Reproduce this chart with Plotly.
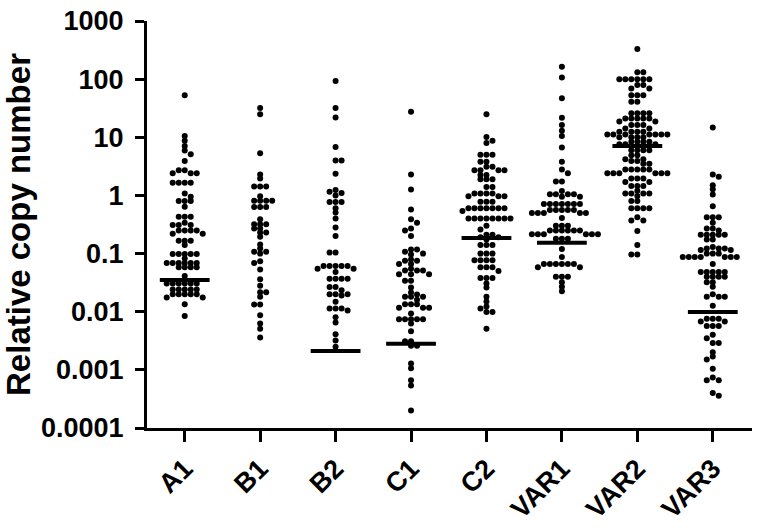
import math
import plotly.graph_objects as go

categories = ["A1", "B1", "B2", "C1", "C2", "VAR1", "VAR2", "VAR3"]

A1 = [53, 10.5, 8.7, 7.1, 5.9, 5.1, 3.9, 2.7, 2.7, 2.4, 2.4, 2.4, 1.65, 1.65, 1.65, 1.65,
      1.08, 0.95, 0.80, 0.80, 0.80, 0.64, 0.43, 0.43, 0.43, 0.34, 0.31, 0.31, 0.31,
      0.25, 0.25, 0.25, 0.25, 0.22, 0.22, 0.166, 0.166, 0.166, 0.14,
      0.098, 0.098, 0.098, 0.098, 0.098, 0.082, 0.069, 0.069, 0.069, 0.069, 0.069, 0.069,
      0.058, 0.058, 0.058, 0.058, 0.041, 0.0305, 0.0305, 0.0305, 0.0305, 0.0305, 0.0305,
      0.024, 0.024, 0.024, 0.024, 0.024, 0.020, 0.020, 0.020, 0.020, 0.020,
      0.0175, 0.0175, 0.0135, 0.0084]

B1 = [32, 25, 5.3, 2.3, 1.96, 1.43, 1.43, 1.43, 0.97, 0.81, 0.81, 0.81, 0.81,
      0.63, 0.63, 0.63, 0.39, 0.32, 0.32, 0.32, 0.27, 0.27, 0.23, 0.23, 0.194, 0.143,
      0.122, 0.107, 0.107, 0.10, 0.074, 0.069, 0.053, 0.036, 0.028, 0.0217, 0.0217,
      0.018, 0.0133, 0.0133, 0.0087, 0.0063, 0.0051, 0.0036]

B2 = [93, 32, 22, 6.8, 4.0, 4.0, 2.35, 1.24, 1.1, 1.0, 1.16, 0.77, 0.77, 0.77, 0.60,
      0.51, 0.40, 0.28, 0.20, 0.104, 0.104, 0.061, 0.061, 0.061, 0.061, 0.061,
      0.055, 0.055, 0.048, 0.037, 0.037, 0.037, 0.037, 0.0267, 0.0267,
      0.020, 0.020, 0.020, 0.0234, 0.019, 0.0148, 0.0114, 0.0114, 0.0114, 0.0105,
      0.008, 0.0065, 0.0041, 0.0032, 0.0025]

C1 = [27.5, 2.3, 1.27, 0.57, 0.39, 0.34, 0.27, 0.25, 0.20, 0.117, 0.117, 0.107, 0.10,
      0.096, 0.079, 0.075, 0.075, 0.066, 0.066, 0.055, 0.051, 0.051, 0.051,
      0.044, 0.044, 0.044, 0.034, 0.034, 0.026, 0.0215, 0.0197, 0.018, 0.018, 0.018,
      0.016, 0.0135, 0.0135, 0.0135, 0.0117, 0.0117, 0.0117, 0.0093,
      0.0074, 0.0074, 0.0074, 0.0074, 0.0074, 0.0063, 0.0046, 0.0031, 0.0031,
      0.0026, 0.0026, 0.00128, 0.00107, 0.00066, 0.00054, 0.0002]

C2 = [24.8, 10.1, 8.7, 8.0, 5.0, 5.0, 5.0, 3.8, 3.8, 3.1, 3.1, 2.7, 2.7, 2.7, 2.7,
      2.25, 2.25, 1.9, 1.9, 1.9, 1.4, 1.4, 1.08, 1.08, 1.08, 1.08, 0.97, 0.97, 0.97,
      0.78, 0.78, 0.78, 0.6, 0.6, 0.6, 0.6, 0.6, 0.6, 0.6, 0.54,
      0.40, 0.40, 0.40, 0.40, 0.40, 0.40, 0.40, 0.40, 0.30, 0.26, 0.21, 0.21,
      0.19, 0.19, 0.175, 0.14, 0.14, 0.14, 0.10, 0.10, 0.10, 0.077, 0.077, 0.077, 0.077,
      0.058, 0.058, 0.058, 0.05, 0.038, 0.038, 0.038, 0.0305, 0.026, 0.018, 0.015,
      0.0123, 0.0114, 0.0099, 0.0099, 0.0051]

VAR1 = [164, 107, 47, 21.7, 16.2, 12.9, 10.5, 6.7, 3.8, 2.8, 2.4, 1.74, 1.74, 1.19,
        1.05, 1.05, 1.05, 1.05, 0.95, 0.95, 0.71, 0.71, 0.71, 0.71, 0.71, 0.71, 0.71,
        0.56, 0.56, 0.56, 0.56, 0.56, 0.50, 0.50, 0.50, 0.50, 0.50, 0.41,
        0.30, 0.30, 0.30, 0.25, 0.25, 0.25, 0.25, 0.25, 0.25,
        0.215, 0.215, 0.215, 0.215, 0.215, 0.215, 0.18, 0.18, 0.18, 0.12, 0.087,
        0.066, 0.066, 0.066, 0.066, 0.066, 0.066, 0.058, 0.058, 0.040, 0.040, 0.040,
        0.032, 0.027, 0.0225]

VAR2 = [330, 131, 131, 100, 100, 100, 100, 100, 100, 79, 79, 69, 69, 53, 53, 53, 41, 41,
        26, 26, 26, 26, 21, 21, 21, 21, 21, 18.6, 18.6, 16.3, 16.3, 16.3, 14.2, 14.2,
        12.4, 12.4, 12.4, 12.4, 11.2, 11.2, 11.2, 11.2, 11.2, 11.2, 11.2,
        10, 10, 10, 10, 8.4, 8.4, 8.4, 8.4, 7.6, 7.6, 7.6, 6.0, 6.0, 6.0, 6.0,
        4.9, 4.9, 4.2, 4.2, 3.9, 3.9, 3.5, 3.5, 2.8, 2.8, 2.8, 2.8, 2.8,
        2.4, 2.4, 2.4, 2.4, 2.4, 2.4, 1.96, 1.96, 1.96, 1.71, 1.71, 1.45, 1.45, 1.45,
        1.2, 1.08, 1.08, 1.08, 1.08, 0.98, 0.80, 0.80, 0.6, 0.6, 0.6, 0.6,
        0.42, 0.37, 0.37, 0.245, 0.14, 0.096, 0.096]

VAR3 = [14.8, 2.3, 2.1, 1.5, 1.28, 1.04, 0.65, 0.42, 0.42, 0.42, 0.34, 0.27, 0.27, 0.25,
        0.21, 0.21, 0.21, 0.21, 0.21, 0.175, 0.175, 0.13, 0.122, 0.122, 0.122,
        0.115, 0.115, 0.10, 0.10, 0.10, 0.087, 0.087, 0.087, 0.087, 0.087, 0.087, 0.087,
        0.066, 0.048, 0.048, 0.048, 0.048, 0.048, 0.040, 0.040, 0.040, 0.040,
        0.032, 0.032, 0.027, 0.020, 0.018, 0.018, 0.018, 0.0127,
        0.0076, 0.0076, 0.0076, 0.0068, 0.0068, 0.0057, 0.0057, 0.0057, 0.0040, 0.0035,
        0.0029, 0.0029, 0.0020, 0.0017, 0.0015, 0.00105, 0.00074, 0.00066, 0.00066,
        0.00040, 0.00036]

groups = [A1, B1, B2, C1, C2, VAR1, VAR2, VAR3]
medians = [0.035, None, 0.0021, 0.0028, 0.186, 0.153, 7.1, 0.0099]

tick_vals = [1e-4, 1e-3, 1e-2, 1e-1, 1, 10, 100, 1000]
tick_text = ["0.0001", "0.001", "0.01", "0.1", "1", "10", "100", "1000"]

# ---- swarm layout (computed from the values) ----
PX_PER_CAT = 75.4
PX_PER_DEC = 58.1
DOT = 6.0
COL = DOT / PX_PER_CAT
MIN_DY = 4.0


def swarm(values, center):
    placed = []  # (col, ypx)
    xs, ys = [], []
    flip = 1
    for v in sorted(values, reverse=True):
        ypx = math.log10(v) * PX_PER_DEC
        k = 0
        order = [0]
        for n in range(1, 12):
            order += [n * flip, -n * flip]
        for c in order:
            if all(not (pc == c and abs(py - ypx) < MIN_DY) for pc, py in placed):
                k = c
                break
        if k != 0:
            flip = -flip
        placed.append((k, ypx))
        xs.append(center + k * COL)
        ys.append(v)
    return xs, ys


fig = go.Figure()
for i, vals in enumerate(groups):
    xs, ys = swarm(vals, i)
    fig.add_trace(go.Scatter(x=xs, y=ys, mode="markers",
                             marker=dict(size=6, color="black"),
                             showlegend=False, hoverinfo="skip"))

for i, m in enumerate(medians):
    if m is None:
        continue
    fig.add_trace(go.Scatter(x=[i - 0.33, i + 0.33], y=[m, m], mode="lines",
                             line=dict(color="black", width=4),
                             showlegend=False, hoverinfo="skip"))

FONT = "Liberation Sans, Arial, Helvetica, sans-serif"

fig.update_layout(
    width=759, height=531,
    margin=dict(l=147, r=7, t=21, b=103),
    paper_bgcolor="white", plot_bgcolor="white",
    font=dict(family=FONT, color="black"),
    xaxis=dict(
        range=[-0.5, 7.52], tickmode="array",
        tickvals=list(range(len(categories))), ticktext=categories,
        tickangle=-45, ticks="outside", ticklen=11, tickwidth=3, tickcolor="black",
        showline=True, linewidth=3, linecolor="black",
        showgrid=False, zeroline=False,
        tickfont=dict(family=FONT, size=27, color="black", weight="bold"),
    ),
    yaxis=dict(
        type="log", range=[-4, 3], tickmode="array",
        tickvals=tick_vals, ticktext=tick_text,
        ticks="outside", ticklen=9, tickwidth=3, tickcolor="black",
        showline=True, linewidth=3, linecolor="black",
        showgrid=False, zeroline=False, ticklabelstandoff=6,
        tickfont=dict(family=FONT, size=27, color="black", weight="bold"),
        title=dict(text="Relative copy number", standoff=6,
                   font=dict(family=FONT, size=33, color="black", weight="bold")),
    ),
)

fig.write_html("out.html",
               config={"displayModeBar": False},
               post_script="document.body.style.margin='0';document.body.style.padding='0';")
